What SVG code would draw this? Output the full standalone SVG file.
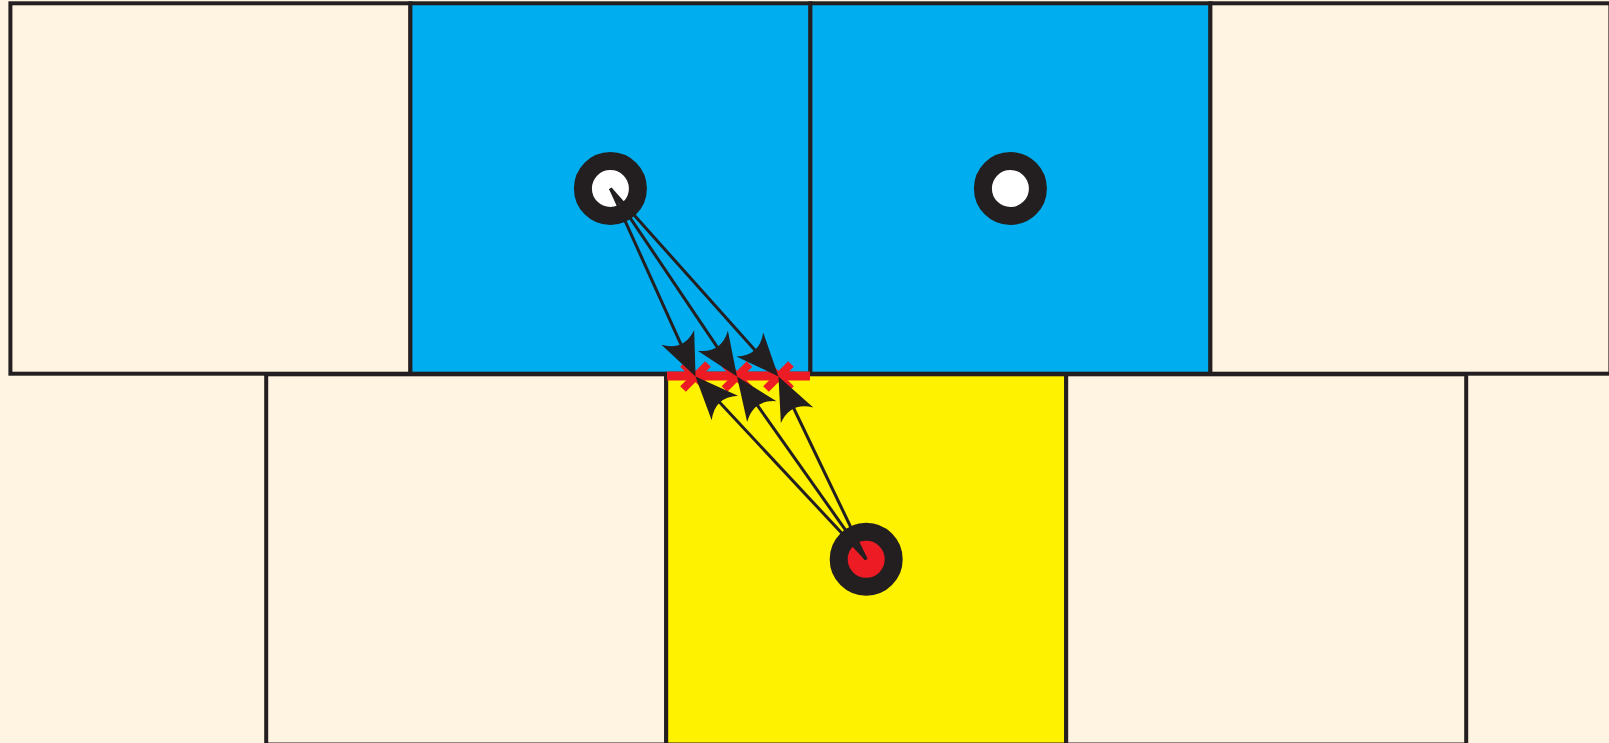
<svg xmlns="http://www.w3.org/2000/svg" width="1609" height="743" viewBox="0 0 1609 743">
<style>
.cell{stroke:#231F20;stroke-width:4}
.cream{fill:#FFF3E1}
.blue{fill:#00AEEF}
.yellow{fill:#FFF200}
.node{stroke:#231F20;stroke-width:18}
.ray{stroke:#231F20;stroke-width:3;fill:none;marker-end:url(#ah)}
.xm{stroke:#ED1C24;stroke-width:8;fill:none}
</style>
<defs>
<marker id="ah" markerUnits="userSpaceOnUse" orient="auto" overflow="visible" markerWidth="1" markerHeight="1" refX="-10" refY="0">
<path d="M0,0 L-43,-18 Q-28,0 -43,18 Z" fill="#231F20"/>
</marker>
</defs>
<rect x="0" y="0" width="1609" height="743" fill="#FFF3E1"/>
<g id="cell-top-1"><rect class="cell cream" x="10.4" y="3.3" width="400" height="370.4"/></g>
<g id="cell-top-2"><rect class="cell blue" x="410.4" y="3.3" width="400" height="370.4"/></g>
<g id="cell-top-3"><rect class="cell blue" x="810.4" y="3.3" width="400" height="370.4"/></g>
<g id="cell-top-4"><rect class="cell cream" x="1210.4" y="3.3" width="400" height="370.4"/></g>
<g id="cell-bot-1"><rect class="cell cream" x="266.2" y="374.3" width="400" height="370.2"/></g>
<g id="cell-bot-2"><rect class="cell yellow" x="666.2" y="374.3" width="400" height="370.2"/></g>
<g id="cell-bot-3"><rect class="cell cream" x="1066.2" y="374.3" width="400" height="370.2"/></g>
<g id="boundary">
<rect x="667" y="371.5" width="143" height="9" fill="#ED1C24"/>
<path class="xm" d="M683,364 L708,389 M708,364 L683,389"/>
<path class="xm" d="M724.5,364 L749.5,389 M749.5,364 L724.5,389"/>
<path class="xm" d="M766,364 L791,389 M791,364 L766,389"/>
</g>
<g id="node-a"><circle class="node" cx="610.4" cy="188.5" r="27.5" fill="#FFFFFF"/></g>
<g id="node-b"><circle class="node" cx="1010.4" cy="188.5" r="27.5" fill="#FFFFFF"/></g>
<g id="node-r"><circle class="node" cx="866.2" cy="559.3" r="27.5" fill="#ED1C24"/></g>
<g id="connectors">
<line class="ray" x1="610.4" y1="188.5" x2="691.4" y2="367.4"/>
<line class="ray" x1="610.4" y1="188.5" x2="731.4" y2="368.2"/>
<line class="ray" x1="610.4" y1="188.5" x2="771.8" y2="369.0"/>
<line class="ray" x1="866.2" y1="559.3" x2="702.3" y2="383.8"/>
<line class="ray" x1="866.2" y1="559.3" x2="742.8" y2="384.7"/>
<line class="ray" x1="866.2" y1="559.3" x2="782.8" y2="385.5"/>
</g>
</svg>
